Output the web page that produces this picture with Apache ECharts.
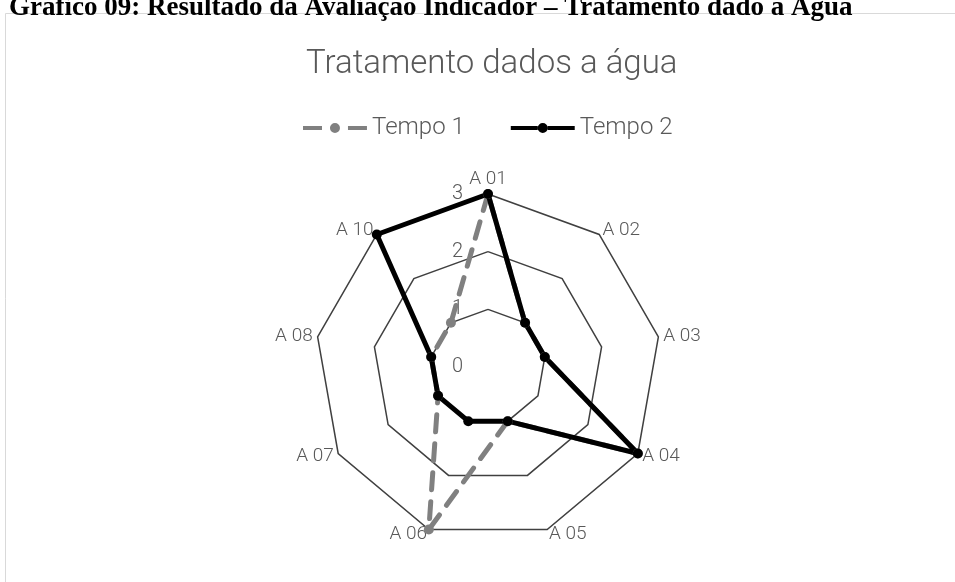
<!DOCTYPE html>
<html>
<head>
<meta charset="utf-8">
<script src="https://cdn.jsdelivr.net/npm/echarts@6/dist/echarts.min.js"></script>
<style>
  html, body { margin: 0; padding: 0; background: #fff; }
  #chart { width: 955px; height: 582px; }
</style>
</head>
<body>
<div id="chart"></div>
<script>
// indicadores na ordem do gráfico (sentido horário a partir do topo)
var indicadores = ['A 01', 'A 02', 'A 03', 'A 04', 'A 05', 'A 06', 'A 07', 'A 08', 'A 10'];
var tempo1 = [3, 1, 1, 3, 1, 3, 1, 1, 1];
var tempo2 = [3, 1, 1, 3, 1, 1, 1, 1, 3];
var maxValor = 3;

// ECharts distribui os eixos no sentido anti-horário: inverte a partir do 2º
function horario(arr) {
    return [arr[0]].concat(arr.slice(1).reverse());
}

var cinza = '#595959';
var fonte = 'Roboto';

// ícones da legenda: linha com bolinha no meio (tracejada no Tempo 1)
var bolinha = 'M27,7 a5,5 0 1,0 10,0 a5,5 0 1,0 -10,0 z';
var iconeTempo1 = 'path://M0,5 h19 v4 h-19 z M45,5 h19 v4 h-19 z ' + bolinha + ' M0,0 h0.01 v0.01 z M64,14 h0.01 v0.01 z';
var iconeTempo2 = 'path://M0,5 h27 v4 h-27 z M37,5 h27 v4 h-27 z ' + bolinha + ' M0,0 h0.01 v0.01 z M64,14 h0.01 v0.01 z';

var myChart = echarts.init(document.getElementById('chart'));
var option = {
    backgroundColor: '#fff',
    title: [
        {
            text: 'Gráfico 09: Resultado da Avaliação Indicador – Tratamento dado à Água',
            left: 4,
            top: -10,
            textStyle: { fontFamily: 'Liberation Serif', fontWeight: 'bold', fontSize: 27, color: '#000' }
        },
        {
            text: 'Tratamento dados a água',
            left: 301,
            top: 43,
            textStyle: { fontFamily: fonte, fontWeight: 300, fontSize: 33, color: cinza }
        }
    ],
    graphic: [
        {
            type: 'rect',
            shape: { x: 5.5, y: 13.5, width: 1200, height: 1000 },
            style: { fill: 'none', stroke: '#d9d9d9', lineWidth: 1 },
            silent: true
        }
    ],
    legend: {
        data: [
            { name: 'Tempo 1', icon: iconeTempo1 },
            { name: 'Tempo 2', icon: iconeTempo2 }
        ],
        left: 298,
        top: 111,
        itemWidth: 64,
        itemHeight: 14,
        itemGap: 46,
        textStyle: { fontFamily: fonte, fontWeight: 300, fontSize: 24, color: cinza }
    },
    radar: {
        center: [488, 367],
        radius: 173,
        startAngle: 90,
        splitNumber: 3,
        shape: 'polygon',
        indicator: horario(indicadores).map(function (nome, i) {
            var ind = { name: nome, min: 0, max: maxValor };
            if (i === 0) {
                ind.axisLabel = { show: true };
            }
            return ind;
        }),
        axisName: { fontFamily: fonte, fontWeight: 300, fontSize: 19, color: cinza },
        nameGap: 5,
        axisLine: { show: false },
        axisTick: { show: false },
        axisLabel: {
            show: false,
            fontFamily: fonte, fontWeight: 300, fontSize: 20, color: cinza,
            margin: 25
        },
        splitLine: { lineStyle: { color: '#404040', width: 1.5 } },
        splitArea: { show: false }
    },
    series: [
        {
            type: 'radar',
            symbol: 'circle',
            symbolSize: 10,
            data: [
                {
                    name: 'Tempo 1',
                    value: horario(tempo1),
                    itemStyle: { color: '#808080' },
                    lineStyle: { color: '#808080', width: 5, type: [17, 12], cap: 'round' }
                },
                {
                    name: 'Tempo 2',
                    value: horario(tempo2),
                    itemStyle: { color: '#000' },
                    lineStyle: { color: '#000', width: 5 }
                }
            ]
        }
    ]
};
myChart.setOption(option);
</script>
</body>
</html>
